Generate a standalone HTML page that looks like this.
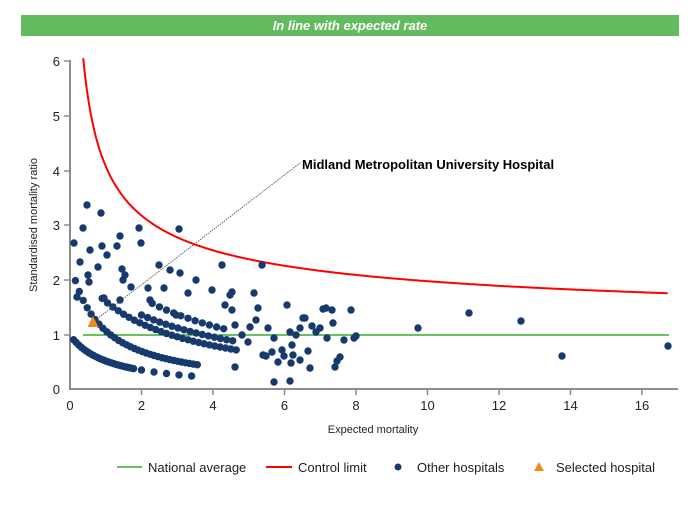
<!DOCTYPE html>
<html><head><meta charset="utf-8"><style>
body{margin:0;background:#fff;width:700px;height:500px;overflow:hidden;font-family:"Liberation Sans",sans-serif}
</style></head><body>
<svg width="700" height="500" xmlns="http://www.w3.org/2000/svg" font-family="Liberation Sans, sans-serif">
<rect x="21" y="15" width="658" height="21" fill="#63bb5f"/>
<text x="350" y="30" fill="#fff" font-size="13" font-weight="bold" font-style="italic" text-anchor="middle">In line with expected rate</text>
<g stroke="#8c8c8c" stroke-width="2" fill="none">
<line x1="70" y1="60" x2="70" y2="390"/><line x1="69" y1="389" x2="678" y2="389"/>
</g>
<g stroke="#8c8c8c" stroke-width="1.5">
<line x1="64" y1="61" x2="70" y2="61"/><line x1="64" y1="116" x2="70" y2="116"/><line x1="64" y1="171" x2="70" y2="171"/><line x1="64" y1="225" x2="70" y2="225"/><line x1="64" y1="280" x2="70" y2="280"/><line x1="64" y1="335" x2="70" y2="335"/>
<line x1="141.5" y1="389" x2="141.5" y2="395"/><line x1="213" y1="389" x2="213" y2="395"/><line x1="284.5" y1="389" x2="284.5" y2="395"/><line x1="356" y1="389" x2="356" y2="395"/><line x1="427.5" y1="389" x2="427.5" y2="395"/><line x1="499" y1="389" x2="499" y2="395"/><line x1="570.5" y1="389" x2="570.5" y2="395"/><line x1="642" y1="389" x2="642" y2="395"/>
</g>
<g font-size="13" fill="#222" text-anchor="end">
<text x="60" y="66">6</text><text x="60" y="121">5</text><text x="60" y="176">4</text><text x="60" y="230">3</text><text x="60" y="285">2</text><text x="60" y="340">1</text><text x="60" y="394">0</text>
</g>
<g font-size="13" fill="#222" text-anchor="middle">
<text x="70" y="410">0</text><text x="141.5" y="410">2</text><text x="213" y="410">4</text><text x="284.5" y="410">6</text><text x="356" y="410">8</text><text x="427.5" y="410">10</text><text x="499" y="410">12</text><text x="570.5" y="410">14</text><text x="642" y="410">16</text>
</g>
<text x="373" y="433" font-size="11" fill="#222" text-anchor="middle">Expected mortality</text>
<text transform="translate(37,225) rotate(-90)" font-size="11" fill="#222" text-anchor="middle">Standardised mortality ratio</text>
<line x1="83" y1="335" x2="669" y2="335" stroke="#6cc062" stroke-width="2"/>
<path id="cl" fill="none" stroke="#f00" stroke-width="2"/>
<g id="dots" fill="#173a6e"></g>
<line x1="93" y1="322" x2="300" y2="163" stroke="#444" stroke-width="0.8" stroke-dasharray="1.5,1"/>
<polygon points="93,316 87.5,327 98.5,327" fill="#f08a1c"/>
<text x="302" y="169" font-size="13" font-weight="bold" fill="#000">Midland Metropolitan University Hospital</text>
<line x1="117" y1="467" x2="142" y2="467" stroke="#6cc062" stroke-width="2"/>
<text x="148" y="472" font-size="13" fill="#222">National average</text>
<line x1="266" y1="467" x2="292" y2="467" stroke="#f00" stroke-width="2"/>
<text x="298" y="472" font-size="13" fill="#222">Control limit</text>
<circle cx="398" cy="467" r="3.5" fill="#173a6e"/>
<text x="417" y="472" font-size="13" fill="#222">Other hospitals</text>
<polygon points="539,462 534,471 544,471" fill="#f08a1c"/>
<text x="556" y="472" font-size="13" fill="#222">Selected hospital</text>
</svg>
<script>
var X=function(e){return 70+35.75*e},Y=function(v){return 389-54.7*v};
var d="";for(var e=0.37;e<=16.76;e+=0.05){d+=(d?"L":"M")+X(e).toFixed(1)+","+Y(1+3.07/Math.sqrt(e)).toFixed(1);}
document.getElementById("cl").setAttribute("d",d);
var g=document.getElementById("dots"),s="";
function c(x,y){s+='<circle cx="'+x.toFixed(1)+'" cy="'+y.toFixed(1)+'" r="3.7"/>';}
function band(a,b,e0,e1,st){for(var e=e0;e<=e1;e+=st){c(X(e),Y(a/(e+b)));}}
band(1.07,1.087,0.1,1.8,0.07);band(1.07,1.087,2.0,3.6,0.35);
band(1.95,0.834,0.15,3.6,0.11);
band(4.72,1.95,0.9,4.7,0.15);
band(6.43,2.75,2.0,4.6,0.17);
band(7.43,2.45,2.3,4.5,0.2);
var p=[[87,205],[101,213],[83,228],[74,243],[139,228],[120,236],[141,243],[102,246],[90,250],[117,246],[107,255],[80,262],[98,267],[122,269],[125,275],[88,275],[89,282],[159,265],[222,265],[123,280],[148,288],[164,288],[196,280],[188,293],[131,287],[212,290],[232,292],[104,298],[77,297],[120,300],[180,273],[170,270],[179,229],[176,315],[150,300],
[225,305],[230,295],[232,310],[235,325],[242,335],[250,327],[256,320],[248,342],[254,293],[258,308],[268,328],[272,352],[274,338],[274,382],[278,362],[284,356],[282,350],[287,305],[290,332],[290,381],[292,345],[293,355],[296,335],[300,328],[303,318],[305,318],[262,265],[308,351],[312,326],[316,332],[320,328],[323,309],[326,308],[327,338],[332,310],[333,323],[335,367],[337,361],[340,357],[344,340],[351,310],[354,338],[356,336],[418,328],[469,313],[521,321],[562,356],[668,346],[263,355],[266,356],[291,363],[300,360],[310,368],[235,367]];
p.forEach(function(q){c(q[0],q[1]);});
g.innerHTML=s;
</script>
</body></html>
